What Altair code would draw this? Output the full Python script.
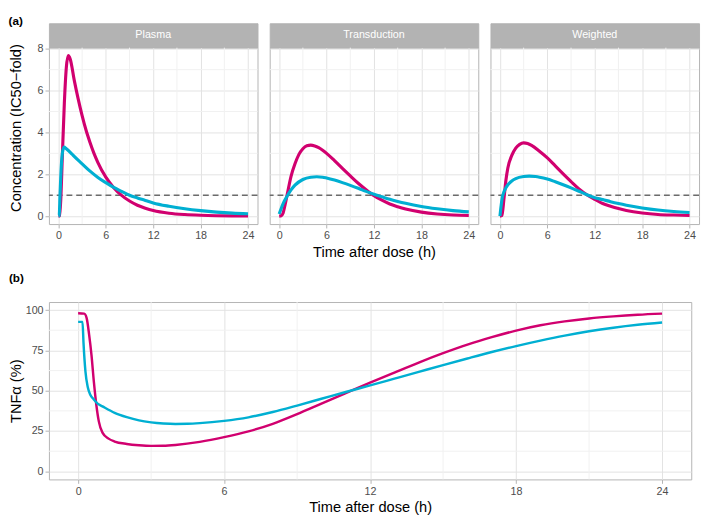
import altair as alt
import pandas as pd

# ---------------- data ----------------
PANELS = ["Plasma", "Transduction", "Weighted"]
SERIES = ["Regimen A", "Regimen B"]          # pink, cyan
COLORS = ["#D1006F", "#00AFD2"]

# (a) concentration (IC50-fold)
plasma_t_a = [0, 0.15, 0.3, 0.5, 0.75, 1.0, 1.25, 1.5, 2.0, 2.5, 3.0, 3.5, 4.0, 4.5, 5, 6, 7, 8, 9, 10, 11, 12, 14, 16, 18, 20, 22, 24]
plasma_v_a = [0, 0.02, 0.8, 2.9, 5.4, 7.1, 7.67, 7.5, 6.5, 5.6, 4.8, 4.1, 3.52, 3.0, 2.56, 1.86, 1.36, 0.99, 0.72, 0.52, 0.38, 0.27, 0.14, 0.075, 0.04, 0.02, 0.01, 0.005]
plasma_t_b = [0, 0.1, 0.2, 0.3, 0.4, 0.5, 0.7, 1.0, 1.5, 2, 3, 4, 5, 6, 7, 8, 9, 10, 11, 12, 14, 16, 18, 20, 22, 24]
plasma_v_b = [0, 0.02, 1.0, 1.9, 2.6, 3.0, 3.3, 3.22, 3.05, 2.85, 2.5, 2.15, 1.85, 1.6, 1.37, 1.18, 1.0, 0.87, 0.75, 0.63, 0.47, 0.35, 0.26, 0.19, 0.14, 0.11]

transd_t_a = [0, 0.25, 0.5, 0.75, 1.0, 1.5, 2.0, 2.5, 3.0, 3.5, 4.0, 4.5, 5.0, 5.5, 6.0, 7.0, 8.0, 9.0, 10.0, 11.0, 12.0, 13.0, 14.0, 15.0, 16.0, 18.0, 20.0, 22.0, 24.0]
transd_v_a = [0, 0.02, 0.15, 0.55, 1.0, 1.9, 2.5, 2.95, 3.22, 3.36, 3.39, 3.35, 3.27, 3.15, 3.0, 2.65, 2.28, 1.92, 1.57, 1.26, 0.98, 0.76, 0.58, 0.45, 0.34, 0.19, 0.1, 0.05, 0.03]
transd_t_b = [0, 0.5, 1.0, 1.5, 2.0, 3.0, 4.0, 4.75, 5.5, 6.0, 7.0, 8.0, 9.0, 10.0, 11.0, 12.0, 13.0, 14.0, 15.0, 16.0, 18.0, 20.0, 22.0, 24.0]
transd_v_b = [0.1, 0.6, 0.95, 1.25, 1.48, 1.75, 1.86, 1.88, 1.86, 1.82, 1.72, 1.6, 1.47, 1.33, 1.18, 1.04, 0.92, 0.8, 0.7, 0.61, 0.46, 0.35, 0.26, 0.2]

weight_t_a = [0, 0.25, 0.5, 0.75, 1.0, 1.5, 2.0, 2.5, 3.0, 3.5, 4.0, 5.0, 6.0, 7.0, 8.0, 9.0, 10.0, 11.0, 12.0, 13.0, 14.0, 15.0, 16.0, 18.0, 20.0, 22.0, 24.0]
weight_v_a = [0, 0.03, 0.8, 1.7, 2.3, 2.9, 3.25, 3.43, 3.5, 3.47, 3.38, 3.1, 2.78, 2.4, 2.02, 1.65, 1.3, 1.02, 0.8, 0.6, 0.47, 0.36, 0.27, 0.15, 0.08, 0.05, 0.03]
weight_t_b = [0, 0.15, 0.3, 0.5, 0.75, 1.0, 1.5, 2.0, 3.0, 3.7, 4.5, 5.0, 6.0, 7.0, 8.0, 9.0, 10.0, 11.0, 12.0, 13.0, 14.0, 15.0, 16.0, 18.0, 20.0, 22.0, 24.0]
weight_v_b = [0.0, 0.5, 0.9, 1.15, 1.35, 1.5, 1.68, 1.79, 1.89, 1.91, 1.89, 1.86, 1.77, 1.64, 1.5, 1.35, 1.19, 1.02, 0.88, 0.79, 0.69, 0.6, 0.52, 0.39, 0.29, 0.22, 0.17]

# (b) TNF-alpha (%)
tnf_t_a = [0, 0.25, 0.35, 0.45, 0.55, 0.65, 0.75, 0.85, 1.0, 1.25, 1.5, 2.0, 2.5, 3.0, 3.5, 4.0, 5.0, 6.0, 7.0, 8.0, 9.0, 10.0, 11.0, 12.0, 13.0, 14.0, 15.0, 16.0, 17.0, 18.0, 19.0, 20.0, 21.0, 22.0, 23.0, 24.0]
tnf_v_a = [98, 97.8, 95, 85, 72, 55, 41, 31, 24, 20.3, 18.5, 17, 16.2, 15.8, 15.9, 16.4, 18.3, 21.2, 24.8, 29.5, 35.5, 42, 48.5, 55, 61.3, 67.5, 73.3, 78.6, 83.2, 87.3, 90.6, 93.0, 94.8, 96.1, 97.1, 97.8]
tnf_t_b = [0, 0.18, 0.22, 0.3, 0.4, 0.5, 0.65, 0.8, 1.0, 1.5, 2.0, 2.5, 3.0, 3.5, 4.0, 4.5, 5.0, 6.0, 7.0, 8.0, 9.0, 10.0, 11.0, 12.0, 13.0, 14.0, 15.0, 16.0, 17.0, 18.0, 19.0, 20.0, 21.0, 22.0, 23.0, 24.0]
tnf_v_b = [92.7, 92.7, 80, 62, 52, 47.5, 44.5, 42, 40.3, 36.3, 33.6, 31.6, 30.4, 29.7, 29.4, 29.5, 29.9, 31.3, 33.5, 36.8, 40.8, 45, 49.2, 53.3, 57.5, 61.7, 65.9, 70.0, 74.0, 77.7, 81.1, 84.2, 86.9, 89.1, 90.9, 92.3]

# axis ticks / reference line
x_ticks = [0, 6, 12, 18, 24]
x_minor = [3, 9, 15, 21]
conc_ticks = [0, 2, 4, 6, 8]
conc_minor = [1, 3, 5, 7]
tnf_ticks = [0, 25, 50, 75, 100]
tnf_minor = [12.5, 37.5, 62.5, 87.5]
threshold = [1]

conc_data = {
    "Plasma": [(plasma_t_a, plasma_v_a), (plasma_t_b, plasma_v_b)],
    "Transduction": [(transd_t_a, transd_v_a), (transd_t_b, transd_v_b)],
    "Weighted": [(weight_t_a, weight_v_a), (weight_t_b, weight_v_b)],
}

# ---------------- styling ----------------
FONT = "Liberation Sans"
MINOR = "#f1f1f1"
MAJOR = "#e2e2e2"
BORDER = "#b3b3b3"
PW = 214          # width of each top panel
GAP = 8.5

x_scale = alt.Scale(domain=[-1.2, 25.2], nice=False, zero=False)
conc_scale = alt.Scale(domain=[-0.38, 8.05], nice=False, zero=False)
tnf_scale = alt.Scale(domain=[-5, 105], nice=False, zero=False)


def panel_layers(xs, ys, xaxis, yaxis, yminor, curves, width, with_threshold):
    layers = [
        alt.Chart(pd.DataFrame({"t": x_minor})).mark_rule(color=MINOR, strokeWidth=1).encode(
            x=alt.X("t:Q", scale=xs, axis=xaxis)),
        alt.Chart(pd.DataFrame({"v": yminor})).mark_rule(color=MINOR, strokeWidth=1).encode(
            y=alt.Y("v:Q", scale=ys, axis=yaxis)),
    ]
    if with_threshold:
        layers.append(
            alt.Chart(pd.DataFrame({"v": threshold})).mark_rule(
                color="#6b6b6b", strokeWidth=1.5, strokeDash=[6, 4]).encode(
                y=alt.Y("v:Q", scale=ys, axis=yaxis)))
    for (t, v), col in zip(curves, COLORS):
        df = pd.DataFrame({"t": t, "v": v})
        layers.append(
            alt.Chart(df).mark_line(color=col, strokeWidth=width, interpolate="monotone").encode(
                x=alt.X("t:Q", scale=xs, axis=xaxis),
                y=alt.Y("v:Q", scale=ys, axis=yaxis)))
    return layers


cols = []
for i, name in enumerate(PANELS):
    xaxis = alt.Axis(values=x_ticks, title="Time after dose (h)" if i == 1 else None,
                     labelFlush=False, titlePadding=4)
    if i == 0:
        yaxis = alt.Axis(values=conc_ticks, title="Concentration (IC50\u2212fold)",
                         minExtent=24, maxExtent=24, titlePadding=2, titleY=82)
    else:
        yaxis = alt.Axis(values=conc_ticks, labels=False, ticks=False, title=None)
    plot = alt.layer(*panel_layers(x_scale, conc_scale, xaxis, yaxis, conc_minor,
                                   conc_data[name], 3.2, True)).properties(width=PW, height=181)
    strip = alt.Chart(pd.DataFrame({"panel": [name]})).mark_text(
        color="white", fontSize=11, font=FONT).encode(text="panel:N").properties(
        width=PW, height=25, view=alt.ViewBackground(fill=BORDER, stroke=BORDER))
    cols.append(alt.vconcat(strip, plot, spacing=0, bounds="flush"))

top = alt.hconcat(*cols, spacing=GAP).properties(
    title=alt.TitleParams("(a)", anchor="start", fontSize=12, fontWeight="bold",
                          offset=-5, font=FONT, color="black"))

bx = alt.Axis(values=x_ticks, title="Time after dose (h)", labelFlush=False, titlePadding=4)
by = alt.Axis(values=tnf_ticks, title="TNF\u03b1 (%)", minExtent=24, maxExtent=24, titlePadding=2)
bottom = alt.layer(*panel_layers(x_scale, tnf_scale, bx, by, tnf_minor,
                                 [(tnf_t_a, tnf_v_a), (tnf_t_b, tnf_v_b)], 2.5, False)).properties(
    width=3 * PW + 2 * GAP, height=182,
    title=alt.TitleParams("(b)", anchor="start", fontSize=12, fontWeight="bold",
                          offset=17, font=FONT, color="black"))

chart = alt.vconcat(top, bottom, spacing=12).properties(
    padding={"left": 0, "top": 0, "right": 0, "bottom": 0}
).configure(font=FONT).configure_view(stroke=BORDER, strokeWidth=1).configure_axis(
    labelFont=FONT, labelFontSize=11, labelColor="#4d4d4d", labelPadding=2,
    titleFont=FONT, titleFontSize=15, titleFontWeight="normal", titleColor="black",
    tickColor=BORDER, tickSize=4, tickWidth=1, domain=False,
    grid=True, gridColor=MAJOR, gridWidth=1,
)

chart.save("out.html", embed_options={"renderer": "svg", "actions": False})
